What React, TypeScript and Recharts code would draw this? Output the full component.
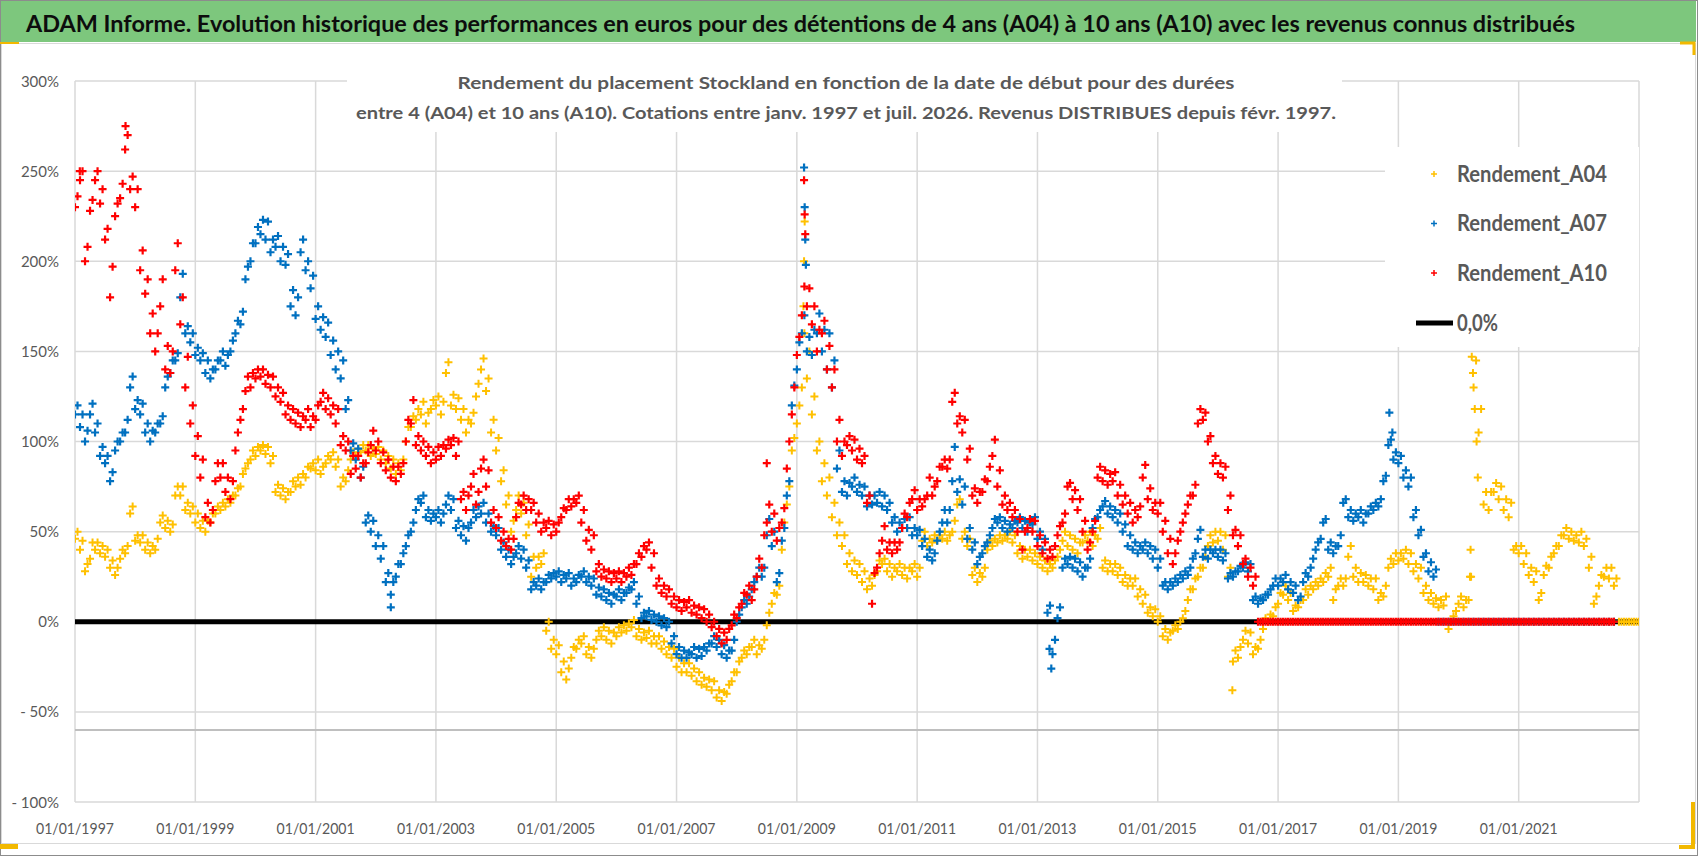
import React from 'react';
import { ScatterChart, Scatter, XAxis, YAxis, CartesianGrid, ReferenceLine } from 'recharts';

const START_YEAR = 1997;
const TITLE =
  'ADAM Informe. Evolution historique des performances en euros pour des détentions de 4 ans (A04) à 10 ans (A10) avec les revenus connus distribués';
const SUBTITLE_1 = 'Rendement du placement Stockland en fonction de la date de début pour des durées';
const SUBTITLE_2 =
  'entre 4 (A04) et 10 ans (A10). Cotations entre janv. 1997 et juil. 2026. Revenus DISTRIBUES depuis févr. 1997.';
const SERIES_NAMES = ['Rendement_A04', 'Rendement_A07', 'Rendement_A10'];
const ZERO_NAME = '0,0%';
const X_TICKS = [1997, 1999, 2001, 2003, 2005, 2007, 2009, 2011, 2013, 2015, 2017, 2019, 2021];
const Y_TICKS = [-100, -50, 0, 50, 100, 150, 200, 250, 300];
const X_DOMAIN = [1997, 2023];
const Y_DOMAIN = [-100, 300];
const ZERO_LINE = [
  { t: 1997, v: 0 },
  { t: 2023, v: 0 },
];
const LOWER_LINE_VALUE = -60;

// Monthly readings at the start of each month (Jan 1997 onward), in %
const A04_VALUES = [
  46, 40, 28, 35, 40, 38, 36, 30, 26, 35, 38, 60,
  45, 44, 40, 38, 40, 55, 52, 50, 70, 70, 62, 60,
  55, 52, 50, 55, 60, 62, 64, 66, 70, 75, 85, 90,
  92, 95, 93, 88, 72, 70, 68, 72, 75, 76, 80, 85,
  84, 82, 88, 90, 86, 75, 78, 90, 92, 94, 95, 92,
  93, 90, 88, 85, 82, 84, 100, 108, 112, 115, 110, 118,
  120, 115, 138, 120, 118, 112, 105, 110, 125, 140, 128, 105,
  95, 78, 65, 50, 62, 60, 48, 25, 30, 32, -5, -15,
  -18, -28, -32, -20, -15, -12, -18, -20, -10, -8, -10, -12,
  -8, -6, -5, -3, -8, -10, -9, -12, -12, -15, -18, -20,
  -25, -28, -28, -30, -33, -35, -36, -38, -42, -44, -40, -33,
  -28, -20, -18, -14, -18, -15, -2, 10, 15, 40, 65, 95,
  110, 130, 135, 115, 95, 78, 70, 58, 48, 42, 32, 28,
  26, 22, 18, 20, 28, 32, 28, 25, 28, 26, 24, 28,
  25, 45, 42, 44, 45, 46, 45, 50, 65, 46, 42, 26,
  22, 25, 40, 42, 44, 45, 46, 44, 38, 35, 36, 34,
  32, 30, 28, 30, 36, 45, 42, 40, 38, 44, 45, 42,
  46, 30, 28, 28, 26, 22, 20, 20, 14, 10, 5, 3,
  0, -8, -10, -5, -4, 2, 12, 18, 25, 30, 42, 44,
  45, 40, 25, -22, -20, -10, -12, -18, -15, -4, 0, 3,
  10, 15, 12, 6, 8, 12, 15, 18, 20, 22, 25, 12,
  20, 20, 36, 25, 22, 22, 20, 18, 12, 14, 30, 32,
  34, 35, 32, 28, 24, 16, 12, 10, 8, 9, -4, 3,
  10, 8, 12, 130, 105, 65, 62, 72, 68, 62, 58, 40,
  38, 32, 26, 22, 12, 26, 30, 38, 42, 48, 46, 45,
  44, 42, 30, 10, 20, 25, 24, 20, 0, 0, 0, 0, 0,
];

const A07_VALUES = [
  115, 108, 100, 115, 105, 92, 88, 78, 95, 100, 105, 130,
  118, 115, 105, 100, 105, 110, 130, 138, 145, 180, 160, 155,
  148, 145, 138, 135, 140, 145, 142, 150, 160, 165, 190, 200,
  210, 215, 212, 205, 208, 200, 198, 175, 170, 205, 195, 185,
  168, 162, 158, 148, 140, 135, 118, 95, 90, 80, 55, 50,
  42, 35, 22, 15, 25, 32, 42, 50, 62, 66, 58, 56,
  58, 55, 65, 62, 52, 48, 45, 55, 58, 60, 55, 50,
  48, 40, 36, 32, 38, 35, 30, 18, 20, 18, 22, 24,
  25, 22, 24, 20, 22, 25, 22, 20, 15, 14, 12, 10,
  14, 12, 16, 18, 10, 2, 3, 1, 0, -2, -3, -12,
  -18, -20, -20, -18, -20, -19, -16, -12, -14, -18, -20, -16,
  0, 8, 10, 18, 25, 25, 48, 42, 22, 45, 70, 120,
  140, 160, 150, 148, 160, 150, 140, 130, 85, 72, 70, 75,
  72, 70, 64, 65, 66, 64, 62, 55, 50, 52, 52, 48,
  48, 42, 36, 34, 45, 55, 55, 78, 72, 65, 46, 40,
  32, 38, 44, 52, 55, 52, 50, 52, 55, 52, 50, 54,
  46, 40, 5, -18, 2, 30, 32, 30, 28, 25, 30, 52,
  58, 64, 60, 58, 55, 50, 42, 40, 38, 40, 38, 35,
  30, 20, 18, 20, 22, 24, 26, 35, 46, 36, 35, 38,
  36, 34, 24, 25, 28, 30, 28, 12, 10, 12, 15, 20,
  20, 22, 18, 16, 12, 22, 25, 35, 44, 55, 40, 38,
  42, 66, 58, 56, 58, 55, 60, 62, 64, 78, 98, 90,
  88, 80, 75, 58, 48, 36, 28, 25, 0, 0, 0, 0,
  0, 0, 0, 0, 0, 0, 0, 0, 0, 0, 0, 0,
  0, 0, 0, 0, 0, 0, 0, 0, 0, 0, 0, 0,
  0, 0, 0, 0, 0, 0, 0, 0,
];

const A10_VALUES = [
  230, 245, 200, 228, 245, 232, 212, 180, 225, 235, 262, 240,
  230, 195, 182, 160, 150, 175, 140, 138, 195, 165, 130, 110,
  92, 80, 58, 55, 78, 80, 72, 68, 95, 112, 128, 130,
  135, 136, 132, 130, 125, 122, 115, 112, 110, 108, 112, 108,
  112, 122, 118, 115, 110, 98, 95, 82, 85, 80, 88, 98,
  95, 88, 84, 80, 78, 82, 100, 110, 98, 95, 92, 88,
  90, 92, 96, 98, 92, 68, 62, 75, 65, 85, 75, 55,
  52, 45, 42, 40, 58, 65, 62, 62, 55, 50, 52, 48,
  50, 58, 62, 64, 66, 55, 45, 40, 28, 25, 24, 22,
  24, 22, 25, 26, 32, 36, 40, 30, 20, 16, 14, 10,
  8, 6, 8, 5, 4, 2, 0, -3, -8, -12, -10, -2,
  2, 10, 15, 12, 25, 30, 55, 50, 45, 55, 85, 115,
  148, 170, 175, 165, 150, 160, 140, 130, 100, 92, 98, 95,
  90, 88, 66, 10, 30, 45, 40, 38, 40, 52, 58, 68,
  62, 64, 70, 70, 78, 86, 85, 122, 110, 105, 90, 70,
  66, 72, 78, 92, 75, 65, 62, 58, 50, 40, 52, 50,
  42, 38, 35, 36, 48, 55, 75, 68, 62, 50, 40, 50,
  80, 78, 76, 78, 70, 65, 60, 55, 58, 80, 68, 62,
  60, 50, 38, 32, 45, 55, 65, 70, 110, 112, 100, 88,
  82, 80, 62, 48, 42, 32, 25, 20, 0, 0, 0, 0,
  0, 0, 0, 0, 0, 0, 0, 0, 0, 0, 0, 0,
  0, 0, 0, 0, 0, 0, 0, 0, 0, 0, 0, 0,
  0, 0, 0, 0, 0, 0, 0, 0, 0, 0, 0, 0,
  0, 0, 0, 0, 0, 0, 0, 0, 0, 0, 0, 0,
  0, 0, 0, 0, 0, 0, 0, 0, 0, 0, 0, 0,
  0, 0, 0, 0, 0, 0, 0, 0,
];

// Mid-month readings of the upper edge of each cloud, in %
const A04_HIGH = [
  50, 45, 32, 44, 44, 42, 40, 34, 30, 40, 42, 64,
  48, 48, 44, 42, 46, 59, 56, 54, 75, 75, 66, 64,
  60, 56, 56, 60, 64, 66, 68, 70, 74, 82, 88, 95,
  97, 98, 97, 92, 76, 74, 72, 78, 80, 82, 86, 88,
  90, 86, 92, 94, 90, 80, 84, 94, 96, 98, 98, 96,
  97, 95, 92, 90, 88, 90, 108, 114, 118, 122, 116, 123,
  125, 122, 144, 126, 124, 118, 112, 116, 132, 146, 135, 112,
  102, 84, 70, 56, 70, 66, 54, 36, 36, 38, 0, -10,
  -13, -22, -26, -14, -10, -8, -14, -15, -5, -3, -5, -6,
  -3, -2, -1, 1, -4, -6, -5, -8, -8, -11, -14, -15,
  -20, -23, -23, -26, -28, -31, -32, -33, -38, -39, -35, -28,
  -22, -16, -14, -10, -13, -10, 5, 16, 20, 55, 75, 102,
  120, 160, 150, 125, 100, 88, 80, 66, 55, 48, 38, 34,
  32, 28, 24, 26, 34, 35, 32, 30, 32, 30, 30, 32,
  30, 50, 46, 48, 48, 50, 48, 56, 68, 50, 46, 30,
  27, 30, 45, 46, 48, 48, 50, 48, 42, 40, 40, 38,
  36, 34, 32, 34, 40, 50, 48, 46, 44, 48, 50, 48,
  52, 34, 32, 32, 30, 26, 24, 24, 18, 15, 8, 7,
  3, -4, -6, -2, 0, 6, 18, 24, 30, 36, 48, 50,
  50, 48, 30, -16, -14, -5, -6, -14, -10, 2, 4, 8,
  16, 20, 16, 9, 12, 18, 20, 22, 24, 27, 30, 18,
  24, 24, 42, 30, 27, 26, 24, 24, 16, 20, 35, 38,
  38, 40, 38, 32, 30, 20, 16, 13, 12, 14, 0, 6,
  14, 12, 25, 145, 118, 72, 72, 77, 75, 68, 66, 42,
  42, 38, 30, 28, 16, 31, 36, 42, 48, 52, 50, 48,
  50, 46, 36, 14, 26, 30, 30, 24, 0, 0, 0, 0,
];

const A07_HIGH = [
  120, 115, 106, 121, 110, 97, 92, 83, 100, 105, 112, 136,
  123, 121, 110, 106, 110, 114, 136, 145, 149, 193, 164, 160,
  152, 149, 145, 140, 145, 150, 148, 156, 167, 172, 197, 210,
  219, 223, 222, 212, 214, 208, 204, 184, 180, 212, 200, 192,
  175, 169, 166, 156, 150, 145, 123, 99, 96, 86, 59, 56,
  48, 42, 27, 22, 32, 38, 48, 55, 68, 70, 62, 60,
  62, 60, 70, 68, 56, 53, 52, 62, 64, 66, 60, 53,
  52, 44, 40, 36, 42, 40, 34, 22, 24, 22, 26, 27,
  28, 26, 27, 24, 26, 28, 25, 24, 19, 18, 16, 15,
  18, 16, 19, 22, 14, 5, 6, 4, 3, 2, 0, -8,
  -14, -16, -17, -14, -15, -14, -12, -8, -10, -13, -16, -10,
  4, 12, 14, 22, 30, 30, 57, 50, 27, 52, 78, 131,
  155, 170, 158, 162, 171, 162, 160, 145, 95, 78, 77, 80,
  76, 75, 70, 70, 72, 70, 66, 58, 55, 57, 58, 52,
  51, 46, 40, 38, 50, 62, 62, 97, 79, 75, 52, 44,
  36, 42, 48, 57, 58, 56, 54, 56, 58, 56, 55, 58,
  50, 46, 9, -10, 8, 35, 36, 35, 33, 30, 35, 57,
  62, 67, 64, 62, 60, 54, 48, 44, 42, 44, 42, 40,
  35, 22, 22, 24, 26, 28, 30, 38, 51, 40, 40, 40,
  40, 38, 27, 28, 31, 33, 32, 14, 13, 15, 18, 24,
  24, 26, 22, 20, 14, 27, 30, 40, 46, 57, 44, 42,
  48, 68, 62, 60, 62, 60, 64, 66, 68, 81, 101, 94,
  92, 84, 80, 62, 51, 38, 33, 29,
];

const A10_HIGH = [
  236, 250, 208, 234, 250, 240, 218, 197, 232, 243, 270, 247,
  240, 206, 190, 171, 160, 190, 153, 150, 210, 180, 147, 120,
  103, 90, 66, 62, 88, 88, 80, 78, 105, 118, 136, 138,
  140, 140, 137, 136, 130, 127, 120, 118, 116, 114, 118, 114,
  120, 127, 124, 120, 118, 103, 100, 92, 92, 88, 94, 106,
  100, 94, 90, 86, 86, 88, 112, 123, 103, 100, 97, 94,
  97, 98, 101, 102, 100, 72, 70, 82, 72, 90, 84, 62,
  58, 50, 46, 46, 66, 70, 68, 66, 60, 55, 56, 54,
  55, 63, 68, 68, 70, 62, 51, 48, 32, 29, 28, 27,
  28, 27, 30, 32, 38, 42, 44, 38, 24, 20, 18, 14,
  12, 11, 12, 9, 8, 7, 4, 0, -4, -6, -4, 4,
  8, 16, 20, 18, 35, 48, 65, 60, 52, 63, 100, 130,
  158, 186, 185, 175, 162, 167, 153, 140, 112, 100, 103, 101,
  96, 92, 70, 27, 38, 53, 44, 44, 44, 60, 66, 73,
  68, 68, 80, 75, 86, 90, 90, 127, 114, 112, 96, 74,
  72, 79, 86, 101, 84, 70, 66, 62, 57, 50, 57, 56,
  48, 44, 40, 42, 53, 60, 77, 73, 68, 56, 44, 56,
  86, 84, 82, 83, 76, 70, 66, 62, 64, 87, 74, 66,
  66, 56, 46, 38, 50, 60, 70, 76, 118, 116, 103, 92,
  88, 86, 70, 51, 48, 35, 30, 25, 0, 0, 0, 0,
  0, 0, 0, 0, 0, 0, 0, 0, 0, 0, 0, 0,
  0, 0, 0, 0, 0, 0, 0, 0, 0, 0, 0, 0,
  0, 0, 0, 0, 0, 0, 0, 0, 0, 0, 0, 0,
  0, 0, 0, 0, 0, 0, 0, 0, 0, 0, 0, 0,
  0, 0, 0, 0, 0, 0, 0, 0, 0, 0, 0, 0,
  0, 0, 0, 0, 0, 0, 0,
];

// Isolated readings (spikes / outliers): [year, %]
const A04_EXTRA = [
  [2009.11, 175], [2009.12, 200], [2009.13, 222],
  [2016.24, -38],
  [2020.19, 25], [2020.2, 40], [2020.22, 147], [2020.24, 138], [2020.27, 118], [2020.3, 100], [2020.32, 80],
];
const A07_EXTRA = [
  [2002.25, 8],
  [2009.12, 252], [2009.13, 230], [2009.14, 212], [2009.15, 198],
  [2013.2, -15], [2013.23, -26],
  [2018.85, 116], [2018.9, 105],
];
const A10_EXTRA = [
  [1997.08, 250], [1997.84, 275],
  [2008.5, 88],
  [2009.12, 245], [2009.13, 226], [2009.14, 215],
];

const COLORS = { a04: '#FFC000', a07: '#0070C0', a10: '#FF0000' };

const monthly = (vals: number[], offset: number) =>
  vals.map((v, i) => ({ t: START_YEAR + (i + offset) / 12, v }));
const extra = (pairs: number[][]) => pairs.map(([t, v]) => ({ t, v }));

const A04_DATA = monthly(A04_VALUES, 0).concat(monthly(A04_HIGH, 0.5), extra(A04_EXTRA));
const A07_DATA = monthly(A07_VALUES, 0).concat(monthly(A07_HIGH, 0.5), extra(A07_EXTRA));
const A10_DATA = monthly(A10_VALUES, 0).concat(monthly(A10_HIGH, 0.5), extra(A10_EXTRA));

const FONT = "Lato, 'Open Sans', 'Liberation Sans', sans-serif";
const GREY_TEXT = '#595959';

const plus = (color: string, half: number, sw: number) => (props: any) => {
  const { cx, cy } = props;
  if (cx == null || cy == null || isNaN(cx) || isNaN(cy)) return <g />;
  return (
    <path
      d={`M${cx - half},${cy}H${cx + half}M${cx},${cy - half}V${cy + half}`}
      stroke={color}
      strokeWidth={sw}
      fill="none"
    />
  );
};

const XTick = (props: any) => {
  const { x, y, payload } = props;
  return (
    <text
      x={x}
      y={y + 32}
      textAnchor="middle"
      fontFamily={FONT}
      fontSize={16}
      fill={GREY_TEXT}
      textLength={78}
      lengthAdjust="spacingAndGlyphs"
    >
      {`01/01/${payload.value}`}
    </text>
  );
};

const fmtY = (v: number) => (v < 0 ? `- ${Math.abs(v)}%` : `${v}%`);

const YTick = (props: any) => {
  const { x, y, payload } = props;
  return (
    <text x={x - 16} y={y + 5.5} textAnchor="end" fontFamily={FONT} fontSize={15} fill={GREY_TEXT}>
      {fmtY(payload.value)}
    </text>
  );
};

const noShape = () => <g />;

export default function App() {
  return (
    <div style={{ position: 'relative', width: 1698, height: 856, background: '#fff', overflow: 'hidden' }}>
      <style>{'body{margin:0;}'}</style>
      <div style={{ position: 'absolute', left: 0, top: 0 }}>
        <ScatterChart width={1698} height={856} margin={{ top: 81, right: 59, bottom: 0, left: 0 }}>
          <CartesianGrid stroke="#d9d9d9" strokeWidth={1.5} />
          <XAxis
            type="number"
            dataKey="t"
            domain={X_DOMAIN}
            ticks={X_TICKS}
            interval={0}
            allowDataOverflow
            axisLine={false}
            tickLine={false}
            tickSize={0}
            tickMargin={0}
            height={54}
            tick={<XTick />}
          />
          <YAxis
            type="number"
            dataKey="v"
            domain={Y_DOMAIN}
            ticks={Y_TICKS}
            interval={0}
            allowDataOverflow
            axisLine={false}
            tickLine={false}
            tickSize={0}
            tickMargin={0}
            width={75}
            tick={<YTick />}
          />
          <ReferenceLine y={LOWER_LINE_VALUE} stroke="#bfbfbf" strokeWidth={2} />
          <Scatter
            name={ZERO_NAME}
            data={ZERO_LINE}
            line={{ stroke: '#000', strokeWidth: 5 }}
            lineType="joint"
            shape={noShape}
            fill="none"
            isAnimationActive={false}
          />
          <Scatter name={SERIES_NAMES[0]} data={A04_DATA} shape={plus(COLORS.a04, 4, 2)} isAnimationActive={false} />
          <Scatter name={SERIES_NAMES[1]} data={A07_DATA} shape={plus(COLORS.a07, 4, 2.2)} isAnimationActive={false} />
          <Scatter name={SERIES_NAMES[2]} data={A10_DATA} shape={plus(COLORS.a10, 4, 2.2)} isAnimationActive={false} />
        </ScatterChart>
      </div>
      <svg
        width={1698}
        height={856}
        style={{ position: 'absolute', left: 0, top: 0, pointerEvents: 'none' }}
      >
        {/* frame */}
        <rect x={0.5} y={0.5} width={1697} height={855} fill="none" stroke="#8c8c8c" strokeWidth={1} />
        <rect x={1.5} y={43.5} width={1694} height={800} fill="none" stroke="#d9d9d9" strokeWidth={1} />
        {/* title band */}
        <rect x={1} y={1} width={1695} height={41} fill="#7DC77D" />
        <text
          x={26}
          y={32}
          fontFamily={FONT}
          fontWeight={700}
          fontSize={23}
          fill="#0d0d0d"
          textLength={1549}
          lengthAdjust="spacingAndGlyphs"
        >
          {TITLE}
        </text>
        {/* selection handles */}
        <rect x={0} y={42} width={19} height={2} fill="#F2B800" />
        <rect x={0} y={844} width={18} height={5} fill="#F2B800" />
        <path d="M1680,43H1694V55" stroke="#F2B800" strokeWidth={3} fill="none" />
        <path d="M1693,802V847H1679" stroke="#F2B800" strokeWidth={4} fill="none" />
        {/* subtitle */}
        <rect x={347} y={72} width={995} height={60} fill="#fff" />
        <text
          x={846}
          y={89}
          textAnchor="middle"
          fontFamily={FONT}
          fontWeight={700}
          fontSize={17}
          fill={GREY_TEXT}
          textLength={777}
          lengthAdjust="spacingAndGlyphs"
        >
          {SUBTITLE_1}
        </text>
        <text
          x={846}
          y={119}
          textAnchor="middle"
          fontFamily={FONT}
          fontWeight={700}
          fontSize={17}
          fill={GREY_TEXT}
          textLength={980}
          lengthAdjust="spacingAndGlyphs"
        >
          {SUBTITLE_2}
        </text>
        {/* legend */}
        <rect x={1385} y={147} width={254} height={200} fill="#fff" />
        {[COLORS.a04, COLORS.a07, COLORS.a10].map((c, i) => {
          const cy = 174 + i * 49.5;
          return (
            <g key={i}>
              <path d={`M${1431},${cy}H${1437}M${1434},${cy - 3}V${cy + 3}`} stroke={c} strokeWidth={1.5} />
              <text
                x={1457}
                y={cy + 7.5}
                fontFamily={FONT}
                fontWeight={700}
                fontSize={22}
                fill={GREY_TEXT}
                textLength={150}
                lengthAdjust="spacingAndGlyphs"
              >
                {SERIES_NAMES[i]}
              </text>
            </g>
          );
        })}
        <line x1={1416} y1={323} x2={1453} y2={323} stroke="#000" strokeWidth={5} />
        <text
          x={1457}
          y={330.5}
          fontFamily={FONT}
          fontWeight={700}
          fontSize={22}
          fill={GREY_TEXT}
          textLength={41}
          lengthAdjust="spacingAndGlyphs"
        >
          {ZERO_NAME}
        </text>
      </svg>
    </div>
  );
}
